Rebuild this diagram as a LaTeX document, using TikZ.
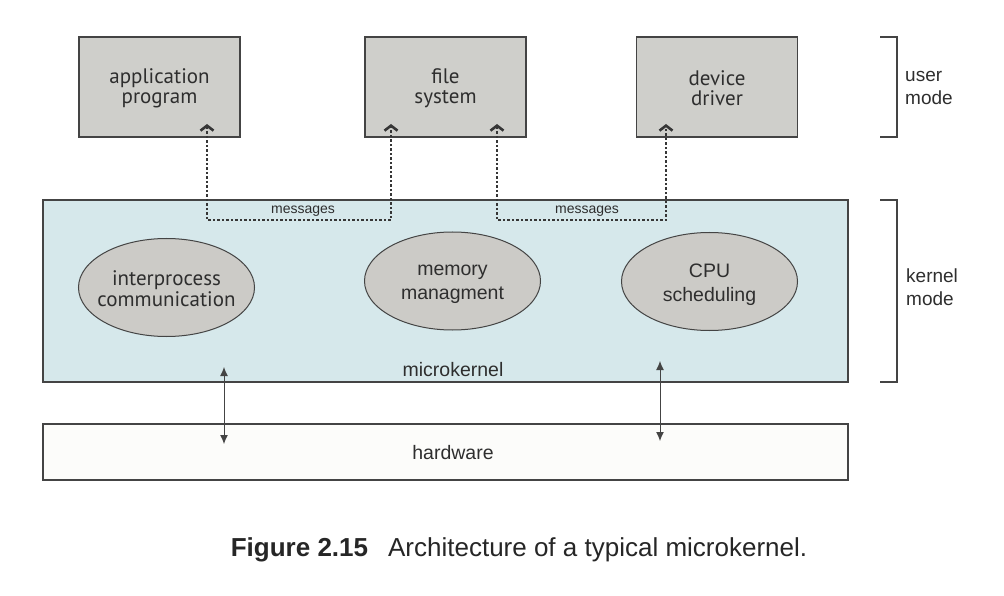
\documentclass[tikz,border=0pt]{standalone}
\usepackage{fontspec}
\setmainfont{Liberation Sans}
\newfontfamily\boxfont{PT Sans}
\usetikzlibrary{arrows.meta,shapes.geometric}
\definecolor{boxfill}{HTML}{CFCFCB}
\definecolor{ellfill}{HTML}{CCCBC7}
\definecolor{kernfill}{HTML}{D6E8EB}
\definecolor{hwfill}{HTML}{FCFCFA}
\definecolor{linecol}{HTML}{444444}
\definecolor{txtcol}{HTML}{2E2E2E}
\tikzset{
  userbox/.style={draw=linecol, line width=1.2pt, fill=boxfill, minimum width=161pt, minimum height=100pt,
    inner sep=0pt},
  service/.style={ellipse, draw=linecol, line width=1pt, fill=ellfill, minimum width=176pt, minimum height=98pt,
    inner sep=0pt},
  lbl/.style={text=txtcol, inner sep=0pt, align=center},
  boxlbl/.style={lbl, font=\boxfont\fontsize{21}{20}\selectfont},
  layer/.style={draw=linecol, line width=1.2pt, minimum width=805pt, inner sep=0pt},
  msgline/.style={line width=2.6pt, draw=linecol!80!black, dash pattern=on 2.4pt off 2.1pt,
    {Straight Barb[length=5pt,width=13pt,line width=2.6pt]}-{Straight Barb[length=5pt,width=13pt,line width=2.6pt]}},
  hwarrow/.style={line width=1pt, draw=linecol, {Latex[length=9pt,width=8pt]}-{Latex[length=9pt,width=8pt]}},
  bracket/.style={line width=1.5pt, draw=linecol}
}
\begin{document}
\begin{tikzpicture}[x=1pt,y=1pt]
\useasboundingbox (0,0) rectangle (1004,-596);
\fill[white] (0,0) rectangle (1004,-596);
% user-mode boxes
\node[userbox] (app) at (159.5,-87) {};
\node[userbox] (fs)  at (445.5,-87) {};
\node[userbox] (dd)  at (717,-87)   {};
\node[boxlbl] (applbl) at ([yshift=-1.5pt]app.center) {application\\program};
\node[boxlbl] (fslbl)  at ([yshift=-1.5pt]fs.center)  {file\\system};
\node[boxlbl] (ddlbl)  at ([yshift=-1.5pt]dd.center)  {device\\driver};
% kernel and hardware layers
\node[layer, fill=kernfill, minimum height=182pt] (mk) at (445.5,-291) {};
\node[layer, fill=hwfill, minimum height=56pt] (hw) at (445.5,-452) {};
\node[lbl, font=\fontsize{19.5}{22}\selectfont, anchor=base] (mklbl) at (453,-376) {microkernel};
\node[lbl, font=\fontsize{19.5}{22}\selectfont, anchor=base] (hwlbl) at (453,-459) {hardware};
% services
\node[service] (ipc) at (166.5,-287.5) {};
\node[service] (mem) at (452.5,-281) {};
\node[service] (cpu) at (709.5,-281.5) {};
\node[lbl, font=\boxfont\fontsize{21}{21}\selectfont] (ipclbl) at ([yshift=-1pt]ipc.center) {interprocess\\communication};
\node[lbl, font=\fontsize{19.5}{24}\selectfont] (memlbl) at ([yshift=-3pt]mem.center) {memory\\managment};
\node[lbl, font=\fontsize{19.5}{24}\selectfont] (cpulbl) at ([yshift=-3pt]cpu.center) {CPU\\scheduling};
% message paths
\coordinate (t1) at (207,-124);
\coordinate (c1) at (207,-220);
\coordinate (c2) at (391,-220);
\coordinate (t2) at (391,-124);
\coordinate (t3) at (497,-124);
\coordinate (c3) at (497,-220);
\coordinate (c4) at (666,-220);
\coordinate (t4) at (666,-124);
\draw[msgline] (t1) -- (c1) -- (c2) -- (t2);
\draw[msgline] (t3) -- (c3) -- (c4) -- (t4);
\node[lbl, font=\fontsize{14}{16}\selectfont, anchor=base] (msg1) at (303,-214) {messages};
\node[lbl, font=\fontsize{14}{16}\selectfont, anchor=base] (msg2) at (587,-214) {messages};
% hardware arrows
\coordinate (a1) at (224,-367);
\coordinate (b1) at (224,-444);
\coordinate (a2) at (660,-361);
\coordinate (b2) at (660,-441);
\draw[hwarrow] (a1) -- (b1);
\draw[hwarrow] (a2) -- (b2);
% mode brackets
\coordinate (u1) at (880,-37);
\coordinate (u2) at (880,-137);
\coordinate (k1) at (880,-200);
\coordinate (k2) at (880,-382);
\draw[bracket] (u1) -- ++(17,0) |- (u2);
\draw[bracket] (k1) -- ++(17,0) |- (k2);
\node[lbl, font=\fontsize{19}{23}\selectfont, anchor=base west, align=left] (um) at (905,-105) {user\\mode};
\node[lbl, font=\fontsize{19}{23}\selectfont, anchor=base west, align=left] (km) at (906,-305) {kernel\\mode};
% caption
\node[lbl, anchor=base, font=\fontsize{26}{29}\selectfont, text=black!85] (cap) at (519,-556)
  {\textbf{Figure 2.15}\hspace{20pt}Architecture of a typical microkernel.};
\end{tikzpicture}
\end{document}
